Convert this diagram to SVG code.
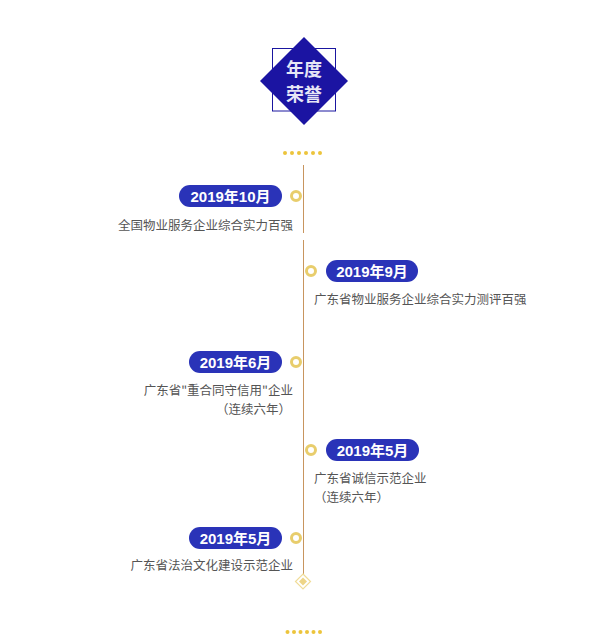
<svg xmlns="http://www.w3.org/2000/svg" width="609" height="644" viewBox="0 0 609 644">
<style>
.pill{fill:#2a33b8}
.pt{font-family:"Liberation Sans","Noto Sans CJK SC",sans-serif;font-size:15px;font-weight:bold;fill:#ffffff;text-anchor:middle}
.dt{font-family:"Noto Sans CJK SC",sans-serif;font-size:12.5px;fill:#555555}
.ring{fill:#ffffff;stroke:#e8cd6c;stroke-width:3}
.dot{fill:#ecc43c}
.r{text-anchor:end}
</style>
<rect width="609" height="644" fill="#ffffff"/>
<g id="title">
<rect x="272.5" y="48.5" width="63" height="62.5" fill="none" stroke="#1a16a0" stroke-width="1"/>
<polygon points="304,37 348,81 304,125 260,81" fill="#1b14a2"/>
<text x="304" y="76" font-family="Noto Sans CJK SC,sans-serif" font-size="18" font-weight="bold" fill="#e6e6f6" text-anchor="middle">年度</text>
<text x="304" y="101" font-family="Noto Sans CJK SC,sans-serif" font-size="18" font-weight="bold" fill="#e6e6f6" text-anchor="middle">荣誉</text>
</g>
<g id="dots-top">
<circle class="dot" cx="285" cy="153" r="2"/><circle class="dot" cx="292" cy="153" r="2"/><circle class="dot" cx="299" cy="153" r="2"/><circle class="dot" cx="306" cy="153" r="2"/><circle class="dot" cx="313" cy="153" r="2"/><circle class="dot" cx="320" cy="153" r="2"/>
</g>
<g id="connectors" stroke="#c8955e" stroke-width="1">
<line x1="303.5" y1="165" x2="303.5" y2="233"/>
<line x1="303.5" y1="240" x2="303.5" y2="574"/>
</g>
<g id="item1">
<rect class="pill" x="179" y="185" width="103" height="22" rx="11"/>
<text class="pt" x="230.5" y="201.5">2019年10月</text>
<circle class="ring" cx="296" cy="196" r="4.5"/>
<text class="dt r" x="293" y="230">全国物业服务企业综合实力百强</text>
</g>
<g id="item2">
<rect class="pill" x="326" y="260" width="92" height="22" rx="11"/>
<text class="pt" x="372" y="276.5">2019年9月</text>
<circle class="ring" cx="311" cy="271" r="4.5"/>
<text class="dt" x="314" y="304">广东省物业服务企业综合实力测评百强</text>
</g>
<g id="item3">
<rect class="pill" x="189" y="351" width="93" height="22" rx="11"/>
<text class="pt" x="235.5" y="367.5">2019年6月</text>
<circle class="ring" cx="296" cy="362" r="4.5"/>
<text class="dt r" x="293" y="395">广东省&quot;重合同守信用&quot;企业</text>
<text class="dt r" x="291" y="414">（连续六年）</text>
</g>
<g id="item4">
<rect class="pill" x="326" y="439" width="93" height="22" rx="11"/>
<text class="pt" x="372.5" y="455.5">2019年5月</text>
<circle class="ring" cx="311" cy="450" r="4.5"/>
<text class="dt" x="314" y="483">广东省诚信示范企业</text>
<text class="dt" x="314" y="502">（连续六年）</text>
</g>
<g id="item5">
<rect class="pill" x="189" y="527" width="93" height="22" rx="11"/>
<text class="pt" x="235.5" y="543.5">2019年5月</text>
<circle class="ring" cx="296" cy="538" r="4.5"/>
<text class="dt r" x="293" y="570">广东省法治文化建设示范企业</text>
</g>
<g id="end-diamond">
<polygon points="303,574 310.5,581.5 303,589 295.5,581.5" fill="#ffffff" stroke="#f0dc98" stroke-width="1.2"/>
<polygon points="303,577.5 307,581.5 303,585.5 299,581.5" fill="#eed587"/>
</g>
<g id="dots-bottom">
<circle class="dot" cx="287.5" cy="632" r="2"/><circle class="dot" cx="294" cy="632" r="2"/><circle class="dot" cx="300.5" cy="632" r="2"/><circle class="dot" cx="307" cy="632" r="2"/><circle class="dot" cx="313.5" cy="632" r="2"/><circle class="dot" cx="320" cy="632" r="2"/>
</g>
</svg>
